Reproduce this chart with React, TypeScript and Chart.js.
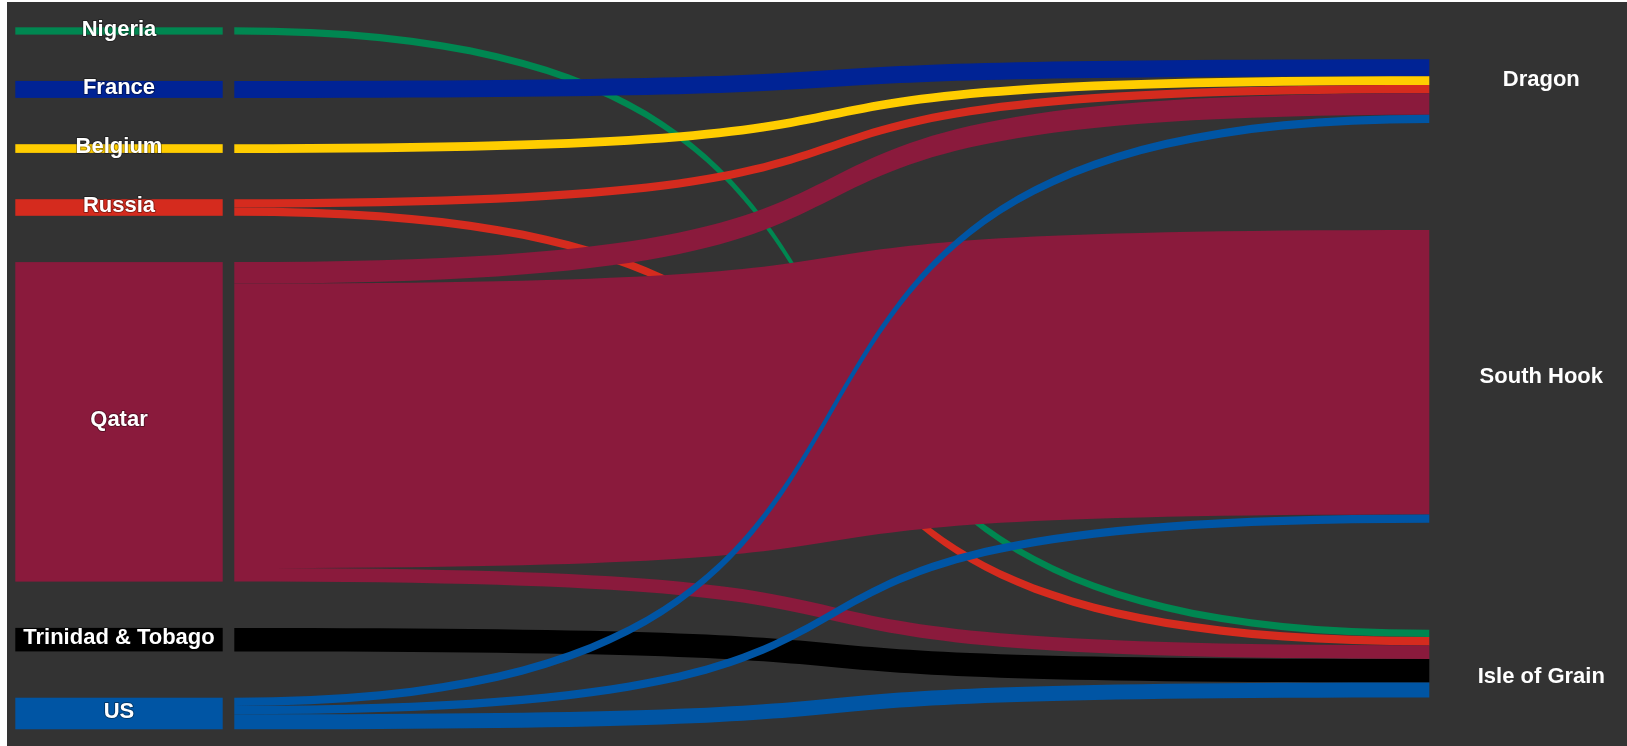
import React, { useEffect, useRef } from "react";
import { Chart, registerables } from "chart.js";

Chart.register(...registerables);

// ---- data ----
const sources = ["Nigeria", "France", "Belgium", "Russia", "Qatar", "Trinidad & Tobago", "US"];
const sourceColors = ["#008751", "#002395", "#FFCD00", "#D52B1E", "#8A1A3C", "#000000", "#0055A4"];
const terminals = ["Dragon", "South Hook", "Isle of Grain"];

const linkFrom = ["Nigeria", "France", "Belgium", "Russia", "Russia", "Qatar", "Qatar", "Qatar", "Trinidad & Tobago", "US", "US", "US"];
const linkTo = ["Isle of Grain", "Dragon", "Dragon", "Dragon", "Isle of Grain", "Dragon", "South Hook", "Isle of Grain", "Isle of Grain", "Dragon", "South Hook", "Isle of Grain"];
const linkValue = [7.3, 17, 8.7, 8.3, 8.3, 21.5, 284.5, 13.5, 23.5, 8.3, 8.3, 15];

// ---- layout / style ----
const STYLE = {
  leftPadding: 46.3, // value units between source nodes
  rightPadding: 107, // value units between terminal nodes
  nodeWidth: 207.4,
  nodeGap: 11.6,
  curve: 0.72,
  font: 'bold 22px "Liberation Sans", Arial, sans-serif',
  rightLabelX: 112,
  rightLabelDy: [-11.5, 1, 13],
  leftLabelDy: -1.5,
};

function sum(a: number[]) {
  return a.reduce((s, v) => s + v, 0);
}

const sourceTotals = sources.map((s) => sum(linkValue.filter((_, i) => linkFrom[i] === s)));
const terminalTotals = terminals.map((t) => sum(linkValue.filter((_, i) => linkTo[i] === t)));
const grandTotal = sum(sourceTotals);
const yMax = grandTotal + (sources.length - 1) * STYLE.leftPadding;

const sankeyPlugin = {
  id: "sankeyDraw",
  afterDraw(chart: any) {
    const ctx: CanvasRenderingContext2D = chart.ctx;
    const xs = chart.scales.x;
    const ys = chart.scales.y;

    // node positions (value space)
    const srcTop: number[] = [];
    let acc = 0;
    sources.forEach((_, i) => {
      srcTop.push(acc);
      acc += sourceTotals[i] + STYLE.leftPadding;
    });
    const rightSpan = grandTotal + (terminals.length - 1) * STYLE.rightPadding;
    const tgtTop: number[] = [];
    acc = (yMax - rightSpan) / 2;
    terminals.forEach((_, i) => {
      tgtTop.push(acc);
      acc += terminalTotals[i] + STYLE.rightPadding;
    });

    const xLeft = xs.getPixelForValue(0);
    const x0 = xLeft + STYLE.nodeWidth + STYLE.nodeGap;
    const x1 = xs.getPixelForValue(1);
    const dx = x1 - x0;
    const c = STYLE.curve * dx;

    ctx.save();
    // source nodes
    sources.forEach((_, i) => {
      const yA = ys.getPixelForValue(srcTop[i]);
      const yB = ys.getPixelForValue(srcTop[i] + sourceTotals[i]);
      ctx.fillStyle = sourceColors[i];
      ctx.fillRect(xLeft, yA, STYLE.nodeWidth, yB - yA);
    });

    // links
    const srcOff = sources.map(() => 0);
    const tgtOff = terminals.map(() => 0);
    linkValue.forEach((v, i) => {
      const si = sources.indexOf(linkFrom[i]);
      const ti = terminals.indexOf(linkTo[i]);
      const sA = ys.getPixelForValue(srcTop[si] + srcOff[si]);
      const sB = ys.getPixelForValue(srcTop[si] + srcOff[si] + v);
      const tA = ys.getPixelForValue(tgtTop[ti] + tgtOff[ti]);
      const tB = ys.getPixelForValue(tgtTop[ti] + tgtOff[ti] + v);
      srcOff[si] += v;
      tgtOff[ti] += v;
      ctx.beginPath();
      ctx.moveTo(x0, sA);
      ctx.bezierCurveTo(x0 + c, sA, x1 - c, tA, x1, tA);
      ctx.lineTo(x1, tB);
      ctx.bezierCurveTo(x1 - c, tB, x0 + c, sB, x0, sB);
      ctx.closePath();
      ctx.fillStyle = sourceColors[si];
      ctx.fill();
    });

    // labels
    ctx.font = STYLE.font;
    ctx.textAlign = "center";
    ctx.textBaseline = "middle";
    ctx.lineJoin = "round";
    sources.forEach((s, i) => {
      const yc = ys.getPixelForValue(srcTop[i] + sourceTotals[i] / 2) + STYLE.leftLabelDy;
      const xc = xLeft + STYLE.nodeWidth / 2;
      ctx.strokeStyle = "rgba(0,0,0,0.35)";
      ctx.lineWidth = 2;
      ctx.strokeText(s, xc, yc);
      ctx.fillStyle = "#ffffff";
      ctx.fillText(s, xc, yc);
    });
    terminals.forEach((t, i) => {
      const yc = ys.getPixelForValue(tgtTop[i] + terminalTotals[i] / 2) + STYLE.rightLabelDy[i];
      const xc = x1 + STYLE.rightLabelX;
      ctx.fillStyle = "#ffffff";
      ctx.fillText(t, xc, yc);
    });
    ctx.restore();
  },
};

export default function App() {
  const ref = useRef<HTMLCanvasElement | null>(null);
  useEffect(() => {
    if (!ref.current) return;
    const chart = new Chart(ref.current, {
      type: "scatter",
      data: { datasets: [{ data: [] }] },
      options: {
        animation: false,
        responsive: false,
        layout: { padding: { left: 8.3, right: 197.7, top: 25.3, bottom: 16.7 } },
        plugins: { legend: { display: false }, tooltip: { enabled: false } },
        scales: {
          x: { type: "linear", min: 0, max: 1, display: false },
          y: { type: "linear", min: 0, max: yMax, reverse: true, display: false },
        },
      },
      plugins: [sankeyPlugin],
    });
    return () => chart.destroy();
  }, []);
  return (
    <div
      style={{
        position: "absolute",
        left: 7,
        top: 2,
        width: 1620,
        height: 744,
        background: "#333333",
        overflow: "hidden",
      }}
    >
      <canvas ref={ref} width={1620} height={744} style={{ display: "block" }} />
    </div>
  );
}
